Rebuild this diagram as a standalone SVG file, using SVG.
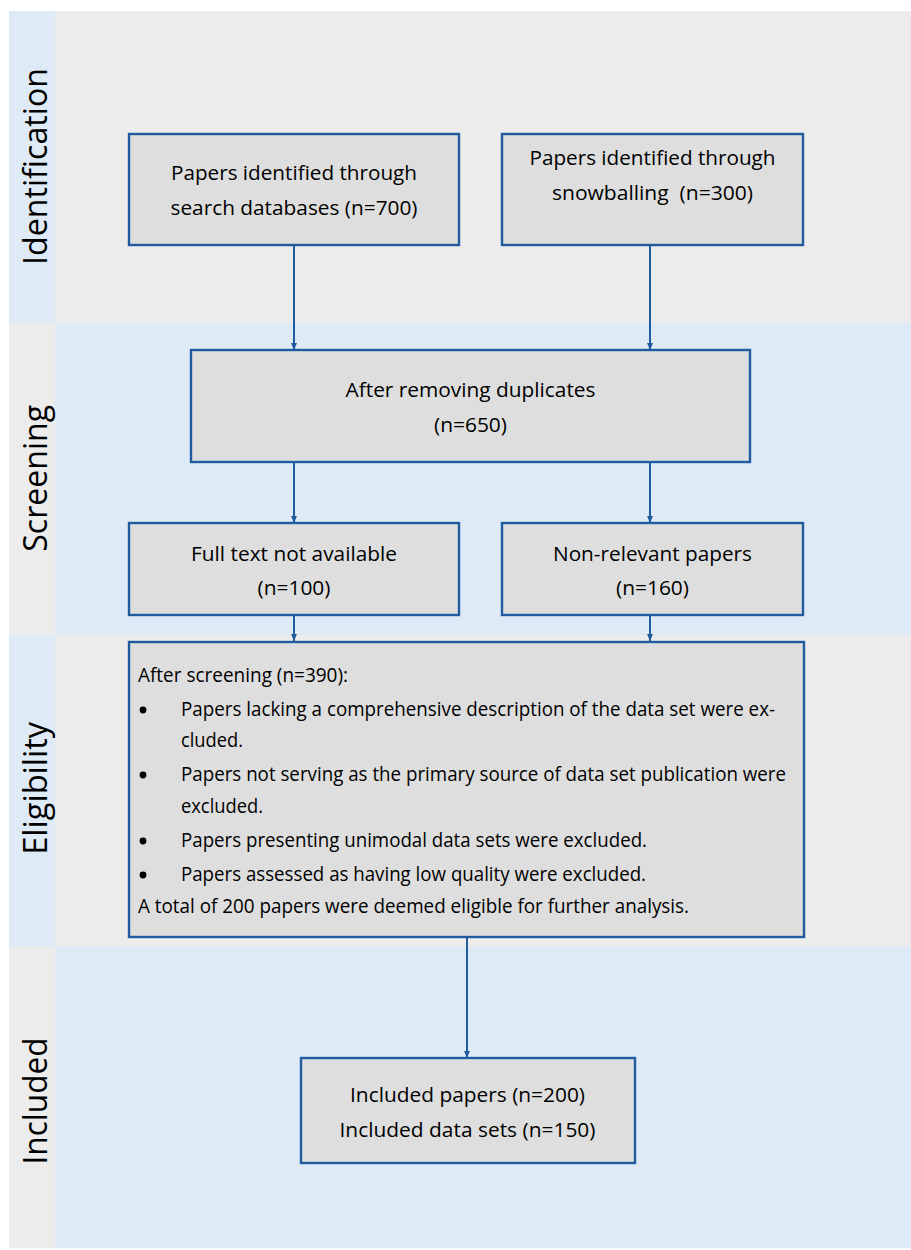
<svg xmlns="http://www.w3.org/2000/svg" width="911" height="1250" viewBox="0 0 911 1250">
<style>
.bg-grey{fill:#ececec}
.bg-blue{fill:#deebf7}
.box{fill:#dedede;stroke:#1f5b9e;stroke-width:2.4}
.t{font-family:"Open Sans","Liberation Sans",sans-serif;font-size:20.5px;fill:#000}
.c{text-anchor:middle}
.lab{font-family:"Open Sans","Liberation Sans",sans-serif;font-size:33px;fill:#000;text-anchor:middle}
.conn line{stroke:#1f5b9e;stroke-width:2}
</style>
<defs>
<marker id="ah" markerUnits="userSpaceOnUse" markerWidth="7" markerHeight="7" viewBox="0 0 7 7" refX="7" refY="3.5" orient="auto">
<path d="M0,0.5 L7,3.5 L0,6.5 Z" fill="#1f5b9e"/>
</marker>
</defs>
<g id="background">
<rect class="bg-blue" x="9" y="11" width="46" height="312"/>
<rect class="bg-grey" x="55" y="11" width="856" height="312"/>
<rect class="bg-grey" x="9" y="323" width="46" height="312"/>
<rect class="bg-blue" x="55" y="323" width="856" height="312"/>
<rect class="bg-blue" x="9" y="635" width="46" height="311"/>
<rect class="bg-grey" x="55" y="635" width="856" height="311"/>
<rect class="bg-grey" x="9" y="946" width="46" height="302"/>
<rect class="bg-blue" x="55" y="946" width="856" height="302"/>
</g>
<g id="labels">
<text class="lab" transform="translate(47,166.5) rotate(-90)" textLength="197" lengthAdjust="spacingAndGlyphs">Identification</text>
<text class="lab" transform="translate(47,478.3) rotate(-90)" textLength="147" lengthAdjust="spacingAndGlyphs">Screening</text>
<text class="lab" transform="translate(47,788.3) rotate(-90)" textLength="133" lengthAdjust="spacingAndGlyphs">Eligibility</text>
<text class="lab" transform="translate(47,1101) rotate(-90)" textLength="127" lengthAdjust="spacingAndGlyphs">Included</text>
</g>
<g id="connectors" class="conn">
<line x1="294" y1="245" x2="294" y2="350" marker-end="url(#ah)"/>
<line x1="650" y1="245" x2="650" y2="350" marker-end="url(#ah)"/>
<line x1="294" y1="462" x2="294" y2="523" marker-end="url(#ah)"/>
<line x1="650" y1="462" x2="650" y2="523" marker-end="url(#ah)"/>
<line x1="294" y1="615" x2="294" y2="641" marker-end="url(#ah)"/>
<line x1="650" y1="615" x2="650" y2="641" marker-end="url(#ah)"/>
<line x1="467" y1="937" x2="467" y2="1058" marker-end="url(#ah)"/>
</g>
<g id="node-search">
<rect class="box" x="129" y="134" width="330" height="111"/>
<text class="t c" x="294" y="180" textLength="246" lengthAdjust="spacingAndGlyphs">Papers identified through</text>
<text class="t c" x="294" y="215" textLength="247" lengthAdjust="spacingAndGlyphs">search databases (n=700)</text>
</g>
<g id="node-snowballing">
<rect class="box" x="502" y="134" width="301" height="111"/>
<text class="t c" x="652.5" y="165" textLength="246" lengthAdjust="spacingAndGlyphs">Papers identified through</text>
<text class="t c" x="652.5" y="200" textLength="201" lengthAdjust="spacingAndGlyphs" xml:space="preserve">snowballing  (n=300)</text>
</g>
<g id="node-duplicates">
<rect class="box" x="191" y="350" width="559" height="112"/>
<text class="t c" x="470.5" y="397" textLength="250" lengthAdjust="spacingAndGlyphs">After removing duplicates</text>
<text class="t c" x="470.5" y="432" textLength="73" lengthAdjust="spacingAndGlyphs">(n=650)</text>
</g>
<g id="node-fulltext">
<rect class="box" x="129" y="523" width="330" height="92"/>
<text class="t c" x="294" y="561" textLength="206" lengthAdjust="spacingAndGlyphs">Full text not available</text>
<text class="t c" x="294" y="595" textLength="73" lengthAdjust="spacingAndGlyphs">(n=100)</text>
</g>
<g id="node-nonrelevant">
<rect class="box" x="502" y="523" width="301" height="92"/>
<text class="t c" x="652.5" y="561" textLength="199" lengthAdjust="spacingAndGlyphs">Non-relevant papers</text>
<text class="t c" x="652.5" y="595" textLength="73" lengthAdjust="spacingAndGlyphs">(n=160)</text>
</g>
<g id="node-eligibility">
<rect class="box" x="129" y="642" width="675" height="295"/>
<text class="t" x="138" y="681.5" textLength="210" lengthAdjust="spacingAndGlyphs">After screening (n=390):</text>
<circle cx="143" cy="710" r="3.4" fill="#000"/>
<text class="t" x="181" y="716" textLength="594" lengthAdjust="spacingAndGlyphs">Papers lacking a comprehensive description of the data set were ex-</text>
<text class="t" x="181" y="747" textLength="62" lengthAdjust="spacingAndGlyphs">cluded.</text>
<circle cx="143" cy="775" r="3.4" fill="#000"/>
<text class="t" x="181" y="781" textLength="605" lengthAdjust="spacingAndGlyphs">Papers not serving as the primary source of data set publication were</text>
<text class="t" x="181" y="812.5" textLength="82" lengthAdjust="spacingAndGlyphs">excluded.</text>
<circle cx="143" cy="841" r="3.4" fill="#000"/>
<text class="t" x="181" y="847" textLength="466" lengthAdjust="spacingAndGlyphs">Papers presenting unimodal data sets were excluded.</text>
<circle cx="143" cy="875" r="3.4" fill="#000"/>
<text class="t" x="181" y="881" textLength="465" lengthAdjust="spacingAndGlyphs">Papers assessed as having low quality were excluded.</text>
<text class="t" x="138" y="912.5" textLength="551" lengthAdjust="spacingAndGlyphs">A total of 200 papers were deemed eligible for further analysis.</text>
</g>
<g id="node-included">
<rect class="box" x="301" y="1058" width="334" height="105"/>
<text class="t c" x="467.5" y="1101.5" textLength="235" lengthAdjust="spacingAndGlyphs">Included papers (n=200)</text>
<text class="t c" x="467.5" y="1136.5" textLength="256" lengthAdjust="spacingAndGlyphs">Included data sets (n=150)</text>
</g>
</svg>
